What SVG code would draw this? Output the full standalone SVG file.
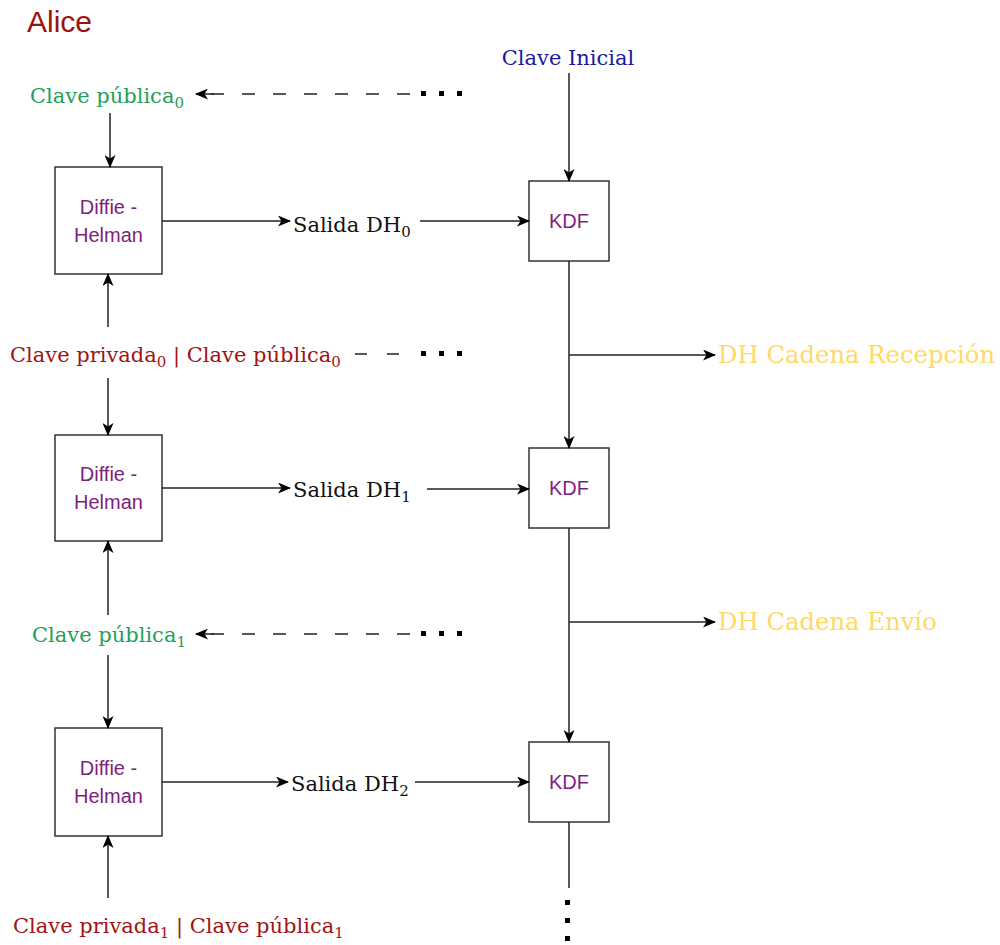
<svg xmlns="http://www.w3.org/2000/svg" width="1000" height="945" viewBox="0 0 1000 945">
<style>
.box{fill:#fff;stroke:#333;stroke-width:1.5}
.bt{font-family:"Liberation Sans",Arial,sans-serif;font-size:20px;fill:#7E1F7E;text-anchor:middle}
.lbl{font-family:"DejaVu Serif","Liberation Serif",serif;font-size:21px}
.big{font-family:"DejaVu Serif","Liberation Serif",serif;font-size:24.3px;fill:#FFD966}
.sub{font-size:15px}
.ln{fill:none;stroke:#222;stroke-width:1.5}
.dash{fill:none;stroke:#222;stroke-width:1.5;stroke-dasharray:13 18}
.dot{fill:#000}
.green{fill:#22A05A}
.red{fill:#A01414}
.blue{fill:#1A1AA0}
.blk{fill:#111}
</style>
<defs>
<marker id="ah" viewBox="0 0 13 11" refX="12" refY="5.5" markerWidth="13" markerHeight="11" markerUnits="userSpaceOnUse" orient="auto">
<path d="M0,0 L13,5.5 L0,11 L3.5,5.5 z" fill="#000"/>
</marker>
</defs>
<text x="27" y="32" font-family="'Liberation Sans',Arial,sans-serif" font-size="30" fill="#9B1212">Alice</text>

<g id="dh1"><rect class="box" x="55" y="167" width="107" height="107"/><text class="bt" x="108.5" y="214">Diffie -</text><text class="bt" x="108.5" y="242">Helman</text></g>
<g id="dh2"><rect class="box" x="55" y="435" width="107" height="106"/><text class="bt" x="108.5" y="481">Diffie -</text><text class="bt" x="108.5" y="509">Helman</text></g>
<g id="dh3"><rect class="box" x="55" y="728" width="107" height="108"/><text class="bt" x="108.5" y="775">Diffie -</text><text class="bt" x="108.5" y="803">Helman</text></g>

<g id="kdf1"><rect class="box" x="529" y="181" width="80" height="80"/><text class="bt" x="569" y="228">KDF</text></g>
<g id="kdf2"><rect class="box" x="529" y="448" width="80" height="80"/><text class="bt" x="569" y="495">KDF</text></g>
<g id="kdf3"><rect class="box" x="529" y="742" width="80" height="80"/><text class="bt" x="569" y="789">KDF</text></g>

<g id="pub0"><text class="lbl green" x="30" y="103">Clave pública<tspan class="sub" dy="5">0</tspan></text></g>
<g id="priv0"><text class="lbl red" x="10" y="362">Clave privada<tspan class="sub" dy="5">0</tspan><tspan dy="-5"> | Clave pública</tspan><tspan class="sub" dy="5">0</tspan></text></g>
<g id="pub1"><text class="lbl green" x="32" y="642">Clave pública<tspan class="sub" dy="5">1</tspan></text></g>
<g id="priv1"><text class="lbl red" x="13" y="933">Clave privada<tspan class="sub" dy="5">1</tspan><tspan dy="-5"> | Clave pública</tspan><tspan class="sub" dy="5">1</tspan></text></g>
<g id="inicial"><text class="lbl blue" x="568" y="65" text-anchor="middle">Clave Inicial</text></g>
<g id="sal0"><text class="lbl blk" x="293" y="232">Salida DH<tspan class="sub" dy="5" font-size="17">0</tspan></text></g>
<g id="sal1"><text class="lbl blk" x="293" y="497">Salida DH<tspan class="sub" dy="5">1</tspan></text></g>
<g id="sal2"><text class="lbl blk" x="291" y="791">Salida DH<tspan class="sub" dy="5">2</tspan></text></g>
<g id="recep"><text class="big" x="718" y="363">DH Cadena Recepción</text></g>
<g id="envio"><text class="big" x="718" y="630">DH Cadena Envío</text></g>

<g id="connectors">
<line class="ln" x1="110" y1="113" x2="110" y2="167" marker-end="url(#ah)"/>
<line class="ln" x1="108" y1="327" x2="108" y2="274" marker-end="url(#ah)"/>
<line class="ln" x1="108" y1="378" x2="108" y2="435" marker-end="url(#ah)"/>
<line class="ln" x1="108" y1="615" x2="108" y2="541" marker-end="url(#ah)"/>
<line class="ln" x1="108" y1="655" x2="108" y2="728" marker-end="url(#ah)"/>
<line class="ln" x1="108" y1="898" x2="108" y2="836" marker-end="url(#ah)"/>
<line class="ln" x1="162" y1="221" x2="290" y2="221" marker-end="url(#ah)"/>
<line class="ln" x1="420" y1="221" x2="529" y2="221" marker-end="url(#ah)"/>
<line class="ln" x1="162" y1="488" x2="290" y2="488" marker-end="url(#ah)"/>
<line class="ln" x1="427" y1="489" x2="529" y2="489" marker-end="url(#ah)"/>
<line class="ln" x1="162" y1="782" x2="288" y2="782" marker-end="url(#ah)"/>
<line class="ln" x1="415" y1="782" x2="529" y2="782" marker-end="url(#ah)"/>
<line class="ln" x1="569" y1="73" x2="569" y2="181" marker-end="url(#ah)"/>
<line class="ln" x1="569" y1="261" x2="569" y2="448" marker-end="url(#ah)"/>
<line class="ln" x1="569" y1="355" x2="715" y2="355" marker-end="url(#ah)"/>
<line class="ln" x1="569" y1="528" x2="569" y2="742" marker-end="url(#ah)"/>
<line class="ln" x1="569" y1="622" x2="715" y2="622" marker-end="url(#ah)"/>
<line class="ln" x1="569" y1="822" x2="569" y2="888"/>
<line class="dash" x1="410" y1="94" x2="210" y2="94"/>
<line class="ln" x1="214" y1="94" x2="196" y2="94" marker-end="url(#ah)"/>
<line class="dash" x1="410" y1="634" x2="210" y2="634"/>
<line class="ln" x1="214" y1="634" x2="196" y2="634" marker-end="url(#ah)"/>
<line class="dash" x1="355" y1="354" x2="410" y2="354" style="stroke-dasharray:12 20"/>
<rect class="dot" x="421" y="91" width="5" height="5"/><rect class="dot" x="439" y="91" width="5" height="5"/><rect class="dot" x="457" y="91" width="5" height="5"/>
<rect class="dot" x="421" y="351" width="5" height="5"/><rect class="dot" x="439" y="351" width="5" height="5"/><rect class="dot" x="457" y="351" width="5" height="5"/>
<rect class="dot" x="421" y="631" width="5" height="5"/><rect class="dot" x="439" y="631" width="5" height="5"/><rect class="dot" x="457" y="631" width="5" height="5"/>
<rect class="dot" x="565" y="900" width="5" height="5"/><rect class="dot" x="565" y="918" width="5" height="5"/><rect class="dot" x="565" y="936" width="5" height="5"/>
</g>
</svg>
